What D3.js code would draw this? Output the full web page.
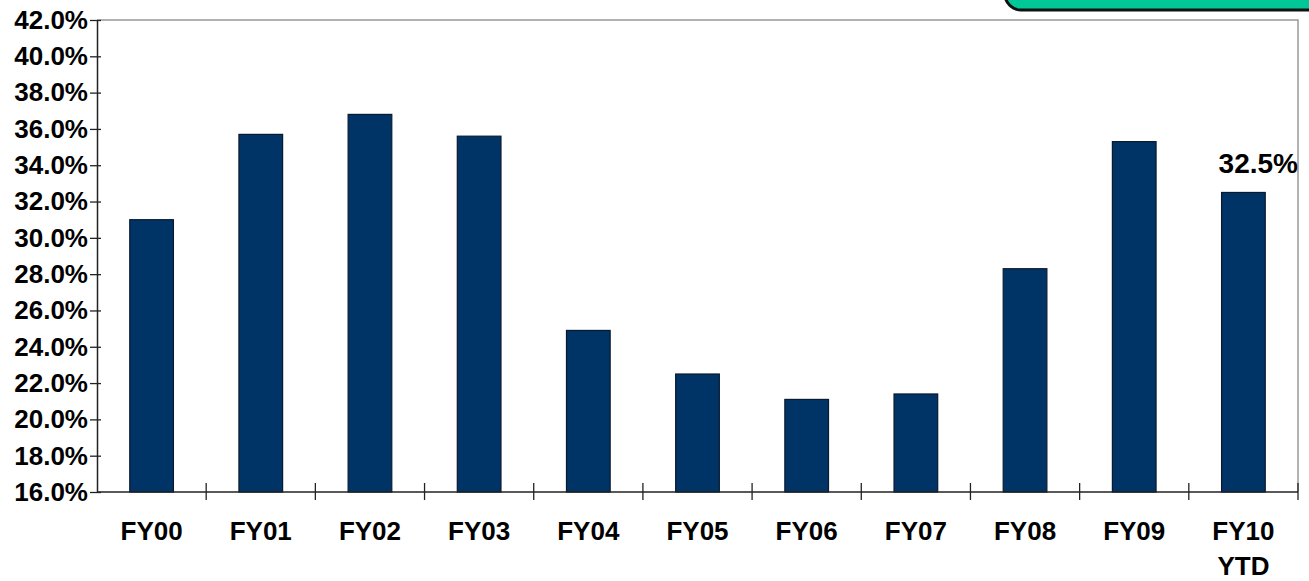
<!DOCTYPE html>
<html>
<head>
<meta charset="utf-8">
<script src="https://cdn.jsdelivr.net/npm/d3@7"></script>
<style>
  body { margin: 0; background: #fff; }
  svg { display: block; font-family: "Liberation Sans", Arial, sans-serif; font-weight: bold; }
  .axis path, .axis line { stroke: #222; }
</style>
</head>
<body>
<svg id="wrapper" width="1309" height="581"></svg>
<script>
const margin = {top:20, right:11, bottom:89, left:97};

// categories and values
const categories = ['FY00','FY01','FY02','FY03','FY04','FY05','FY06','FY07','FY08','FY09','FY10 YTD'];
const values = [31.0, 35.7, 36.8, 35.6, 24.9, 22.5, 21.1, 21.4, 28.3, 35.3, 32.5];
const yTicks = [16, 18, 20, 22, 24, 26, 28, 30, 32, 34, 36, 38, 40, 42];
const lastLabel = '32.5%';

let svg = d3.select('#wrapper');
let width = +svg.attr('width') - margin.left - margin.right;
let height = +svg.attr('height') - margin.top - margin.bottom;

// green callout box cut off at the top right
svg.append('rect')
  .attr('x', 1005)
  .attr('y', -40)
  .attr('width', 340)
  .attr('height', 50)
  .attr('rx', 16)
  .attr('fill', '#00c896')
  .attr('stroke', '#111')
  .attr('stroke-width', 3);

let g = svg.append('g')
  .attr('transform', 'translate('+margin.left+','+margin.top+')');

let x = d3.scaleBand().domain(categories).range([0, width])
  .paddingInner(0.6).paddingOuter(0.3);
let y = d3.scaleLinear().domain([16, 42]).range([height, 0]);

// grey frame on top and right
g.append('path')
  .attr('d', 'M0,0H' + width + 'V' + height)
  .attr('fill', 'none')
  .attr('stroke', '#999')
  .attr('stroke-width', 1.5);

// bars
g.selectAll('.bar')
  .data(values)
  .enter().append('rect')
  .attr('class', 'bar')
  .attr('x', (d, i) => x(categories[i]))
  .attr('y', d => y(d))
  .attr('width', x.bandwidth())
  .attr('height', d => y(16) - y(d))
  .attr('fill', '#003366')
  .attr('stroke', '#0a1a2e')
  .attr('stroke-width', 1.2);

// value label on last bar
g.append('text')
  .attr('x', x(categories[categories.length-1]) + x.step() * 0.7)
  .attr('y', y(values[values.length-1]) - 19)
  .attr('text-anchor', 'end')
  .style('font-size', '28px')
  .attr('fill', '#000')
  .text(lastLabel);

// y axis
let yAxis = g.append('g')
  .attr('class', 'axis axis-y')
  .call(d3.axisLeft(y).tickValues(yTicks).tickSizeOuter(0)
    .tickFormat(d => d.toFixed(1) + '%'));
yAxis.select('.domain').attr('stroke-width', 1.5);
yAxis.selectAll('.tick line').attr('x1', 4).attr('x2', -7).attr('stroke-width', 1.3);
yAxis.selectAll('.tick text')
  .attr('x', -9)
  .attr('fill', '#000')
  .style('font-size', '26px')
  .style('font-family', '"Liberation Sans", Arial, sans-serif')
  .style('font-weight', 'bold');

// x axis: baseline with ticks between categories
let xAxis = g.append('g')
  .attr('class', 'axis axis-x')
  .attr('transform', 'translate(0,' + height + ')');
xAxis.append('line')
  .attr('x1', 0).attr('x2', width)
  .attr('stroke-width', 1.5);
xAxis.selectAll('.sep')
  .data(categories)
  .enter().append('line')
  .attr('class', 'sep')
  .attr('x1', d => x(d) - x.step() * 0.3 + x.step())
  .attr('x2', d => x(d) - x.step() * 0.3 + x.step())
  .attr('y1', -9).attr('y2', 8)
  .attr('stroke-width', 1.3);

let xLabels = xAxis.selectAll('.label')
  .data(categories)
  .enter().append('text')
  .attr('class', 'label')
  .attr('text-anchor', 'middle')
  .attr('fill', '#000')
  .style('font-size', '26px')
  .attr('y', 48);
xLabels.each(function(d) {
  let parts = d.split(' ');
  let t = d3.select(this);
  parts.forEach((p, i) => {
    t.append('tspan')
      .attr('x', x(d) + x.bandwidth() / 2)
      .attr('dy', i === 0 ? 0 : 35)
      .text(p);
  });
});
</script>
</body>
</html>
